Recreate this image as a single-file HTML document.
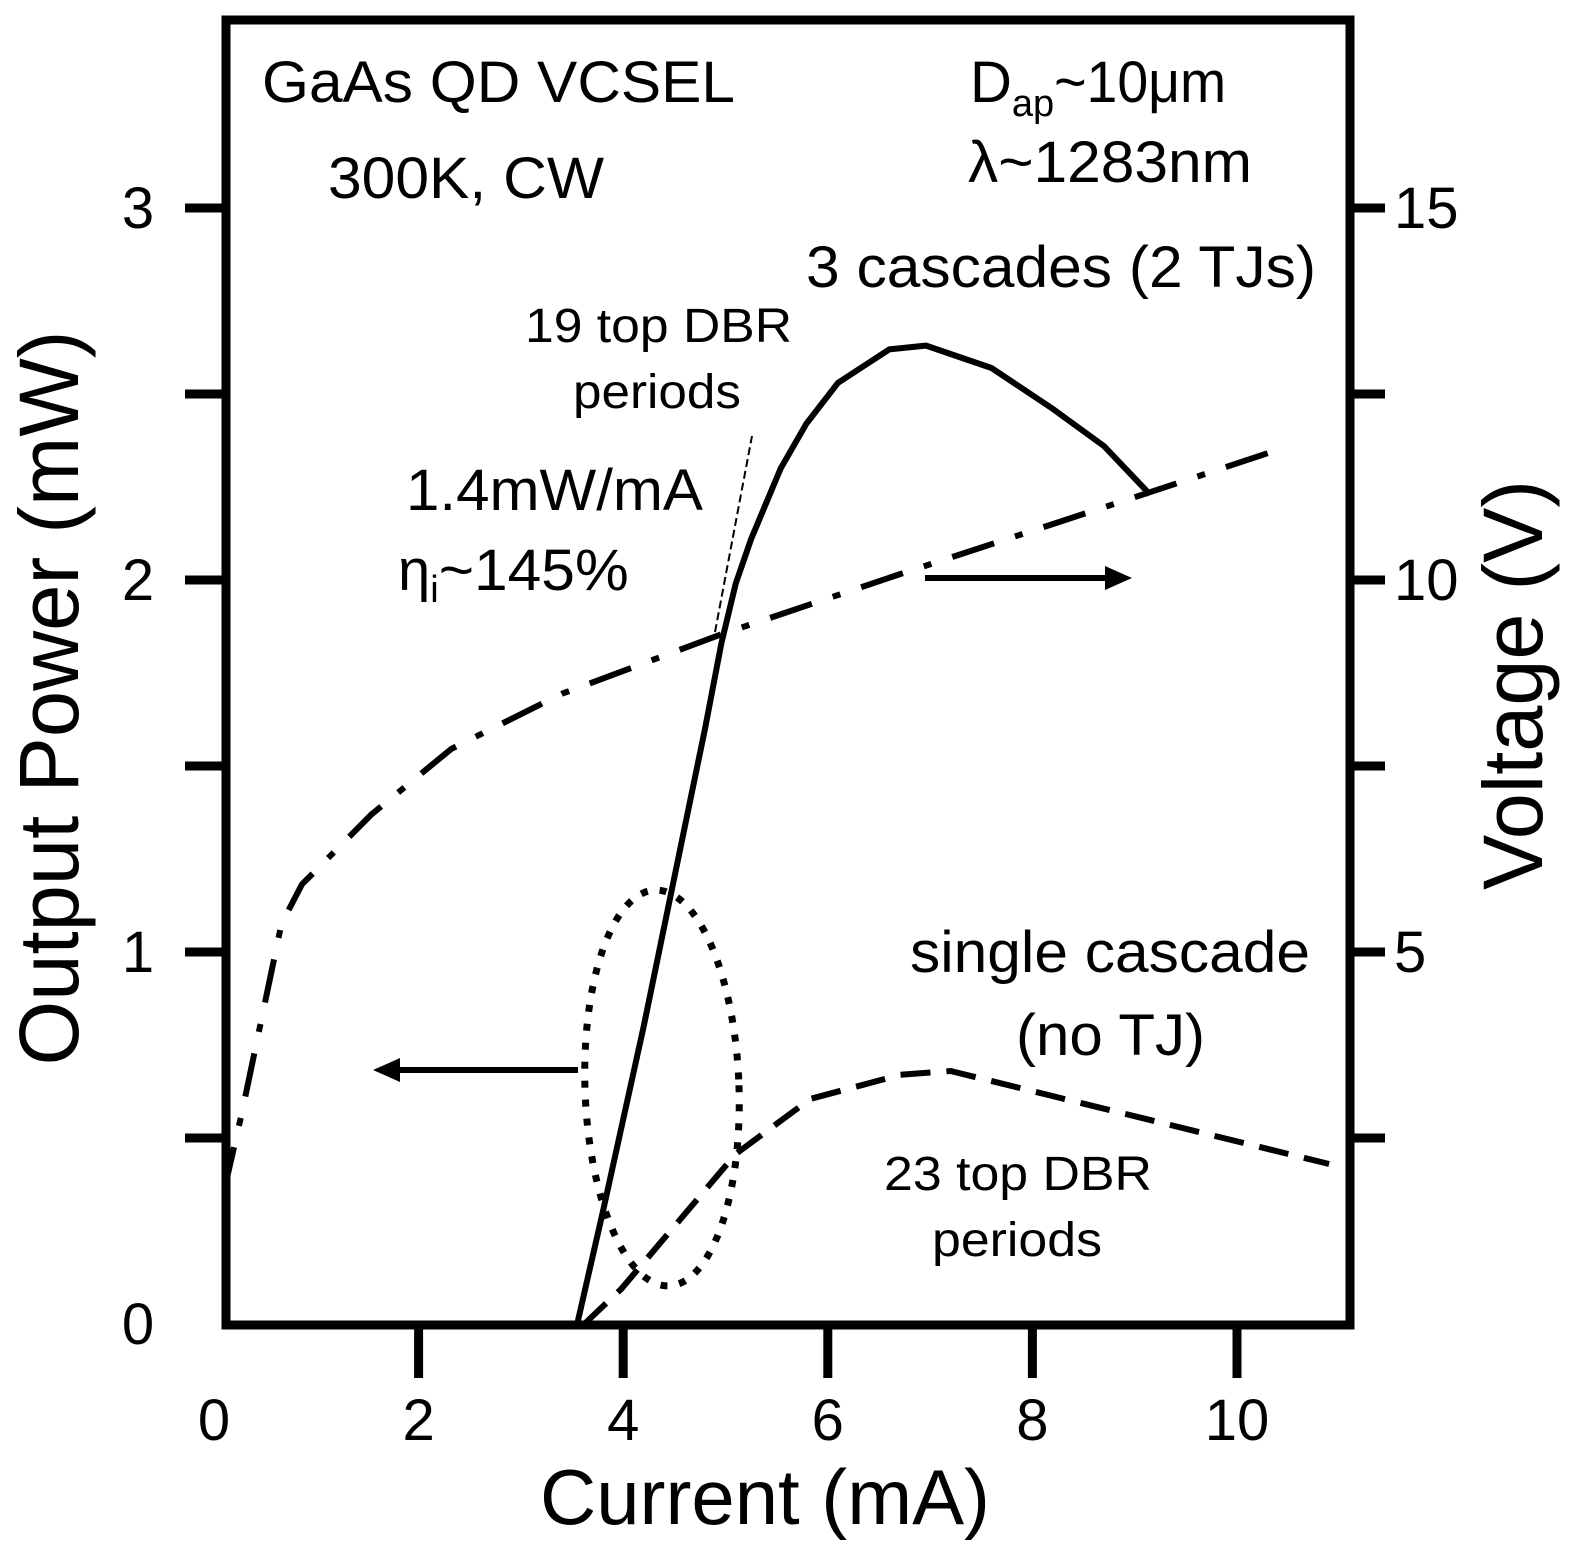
<!DOCTYPE html>
<html><head><meta charset="utf-8"><style>
html,body{margin:0;padding:0;background:#fff;}
svg{display:block;font-family:"Liberation Sans",Arial,sans-serif;}
</style></head><body>
<svg id="chart" width="1573" height="1551" viewBox="0 0 1573 1551" xmlns="http://www.w3.org/2000/svg">
<g id="marks"></g>
<rect x="226" y="20" width="1124" height="1305" fill="none" stroke="#000" stroke-width="9"/>
<g id="axes"></g>
<g font-size="58" fill="#000" lengthAdjust="spacingAndGlyphs">
<text x="262" y="102" textLength="473" lengthAdjust="spacingAndGlyphs">GaAs QD VCSEL</text>
<text x="328" y="198" textLength="276" lengthAdjust="spacingAndGlyphs">300K, CW</text>
<text x="970" y="102">D<tspan font-size="38" dy="14">ap</tspan><tspan dy="-14" textLength="172" lengthAdjust="spacingAndGlyphs">~10μm</tspan></text>
<text x="968" y="182" textLength="284" lengthAdjust="spacingAndGlyphs">λ~1283nm</text>
<text x="806" y="287" textLength="510" lengthAdjust="spacingAndGlyphs">3 cascades (2 TJs)</text>
<text x="525" y="342" font-size="48" textLength="267" lengthAdjust="spacingAndGlyphs">19 top DBR</text>
<text x="573" y="408" font-size="48" textLength="168" lengthAdjust="spacingAndGlyphs">periods</text>
<text x="406" y="510" textLength="297" lengthAdjust="spacingAndGlyphs">1.4mW/mA</text>
<text x="398" y="590">η<tspan font-size="38" dy="12">i</tspan><tspan dy="-12" textLength="190" lengthAdjust="spacingAndGlyphs">~145%</tspan></text>
<text x="910" y="972" textLength="400" lengthAdjust="spacingAndGlyphs">single cascade</text>
<text x="1016" y="1055" textLength="189" lengthAdjust="spacingAndGlyphs">(no TJ)</text>
<text x="884" y="1190" font-size="48" textLength="268" lengthAdjust="spacingAndGlyphs">23 top DBR</text>
<text x="932" y="1256" font-size="48" textLength="170" lengthAdjust="spacingAndGlyphs">periods</text>
</g>
<text x="765" y="1524" font-size="78" text-anchor="middle" textLength="450" lengthAdjust="spacingAndGlyphs">Current (mA)</text>
<text transform="translate(78,698) rotate(-90)" font-size="84" text-anchor="middle" textLength="735" lengthAdjust="spacingAndGlyphs">Output Power (mW)</text>
<text transform="translate(1542,685) rotate(-90)" font-size="84" text-anchor="middle" textLength="410" lengthAdjust="spacingAndGlyphs">Voltage (V)</text>
</svg>
<script>
const xTicks=[0,2,4,6,8,10];
const pTicks=[0,1,2,3];
const pMinor=[0.5,1.5,2.5];
const vTicks=[5,10,15];
const cascI=[3.55,3.8,4.2,4.5,4.8,4.96,5.1,5.25,5.54,5.79,6.1,6.6,6.96,7.6,8.2,8.7,9.15];
const cascP=[0,0.3,0.8,1.2,1.6,1.83,1.99,2.11,2.30,2.42,2.53,2.62,2.63,2.57,2.46,2.36,2.23];
const singI=[3.62,3.98,5.1,5.83,6.71,7.2,10.9];
const singP=[0,0.094,0.457,0.605,0.67,0.68,0.43];
const voltI=[0.1,0.27,0.66,0.86,1.54,2.32,3.4,4.96,6.71,9.15,10.42];
const voltV=[1.8,2.82,5.38,5.91,6.85,7.73,8.47,9.27,10.08,11.18,11.76];
const X=i=>214+i*102.3;
const YP=p=>1324-p*372;
const YV=v=>1324-v*74.4;
const NS='http://www.w3.org/2000/svg';
const marks=document.getElementById('marks'),axes=document.getElementById('axes');
function mk(t,a,parent){const e=document.createElementNS(NS,t);for(const k in a)e.setAttribute(k,a[k]);parent.appendChild(e);return e;}
function poly(xs,ys,fx,fy,dash,name){const pts=xs.map((x,i)=>X(x).toFixed(1)+','+fy(ys[i]).toFixed(1)).join(' ');
const e=mk('polyline',{points:pts,fill:'none',stroke:'#000','stroke-width':6,'stroke-dasharray':dash},marks);

}
poly(voltI,voltV,X,YV,'44 22 8 22','voltage-curve');
poly(singI,singP,X,YP,'30 16','single-cascade-curve');
poly(cascI,cascP,X,YP,'none','three-cascade-curve');
const ell=mk('ellipse',{cx:662,cy:1088,rx:77,ry:198,fill:'none',stroke:'#000','stroke-width':7,'stroke-dasharray':'7 12',transform:'rotate(-2 662 1088)'},marks);


const tan=mk('line',{x1:715,y1:632,x2:752,y2:436,stroke:'#000','stroke-width':2,'stroke-dasharray':'8 4'},marks);


const la=mk('g',{},marks);


mk('line',{x1:578,y1:1070,x2:395,y2:1070,stroke:'#000','stroke-width':6},la);
mk('polygon',{points:'373,1070 400,1058 400,1082',fill:'#000'},la);
const ra=mk('g',{},marks);


mk('line',{x1:925,y1:578,x2:1110,y2:578,stroke:'#000','stroke-width':6},ra);
mk('polygon',{points:'1132,578 1105,566 1105,590',fill:'#000'},ra);
xTicks.forEach(v=>{const x=X(v);
if(v>0){const t=mk('line',{x1:x,y1:1325,x2:x,y2:1378,stroke:'#000','stroke-width':9},axes);

}
const l=mk('text',{x:x,y:1440,'font-size':58,'text-anchor':'middle'},axes);l.textContent=v;

});
pTicks.concat(pMinor).forEach(v=>{const y=YP(v);if(v>0){
const t=mk('line',{x1:185,y1:y,x2:226,y2:y,stroke:'#000','stroke-width':9},axes);


const r=mk('line',{x1:1350,y1:y,x2:1385,y2:y,stroke:'#000','stroke-width':9},axes);

}});
pTicks.forEach(v=>{const l=mk('text',{x:138,y:YP(v)+20,'font-size':58,'text-anchor':'middle'},axes);l.textContent=v;

});
vTicks.forEach(v=>{const l=mk('text',{x:1394,y:YV(v)+20,'font-size':58},axes);l.textContent=v;

});
</script>
</body></html>
